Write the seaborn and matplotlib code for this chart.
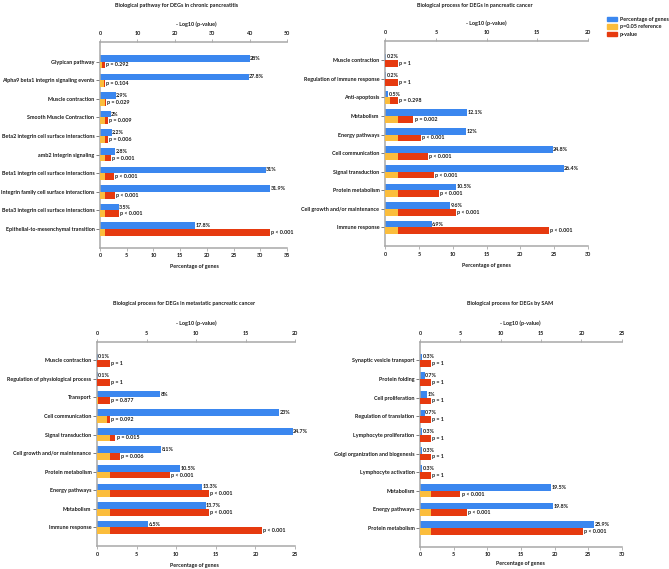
import numpy as np
import matplotlib
matplotlib.use("Agg")
import matplotlib.pyplot as plt
import seaborn as sns
from matplotlib.patches import Patch

sns.set_style("ticks")
plt.rcParams['font.family'] = ['Lato', 'DejaVu Sans']

BLUE = '#3b87ef'
GOLD = '#fbbd3c'
RED = '#e63a0f'
SPINE = '#a8a8a8'
TXT = '#1a1a1a'
FS = 3.9
REF = -np.log10(0.05)  # p = 0.05 reference line on the -log10 scale

# chronic pancreatitis
cp_terms = ["Glypican pathway", "Alpha9 beta1 integrin signaling events", "Muscle contraction",
            "Smooth Muscle Contraction", "Beta2 integrin cell surface interactions",
            "amb2 Integrin signaling", "Beta1 integrin cell surface interactions",
            "Integrin family cell surface interactions", "Beta3 integrin cell surface interactions",
            "Epithelial-to-mesenchymal transition"]
cp_pct = [28, 27.8, 2.9, 2, 2.2, 2.8, 31, 31.9, 3.5, 17.8]
cp_pct_labels = ["28%", "27.8%", "2.9%", "2%", "2.2%", "2.8%", "31%", "31.9%", "3.5%", "17.8%"]
cp_logp = [0.53, 0.98, 1.54, 2.05, 2.2, 3.0, 3.75, 4.1, 5.1, 45.4]
cp_p_labels = ["p = 0.292", "p = 0.104", "p = 0.029", "p = 0.009", "p = 0.006", "p = 0.001",
               "p < 0.001", "p < 0.001", "p < 0.001", "p < 0.001"]

# pancreatic cancer
pc_terms = ["Muscle contraction", "Regulation of immune response", "Anti-apoptosis", "Metabolism",
            "Energy pathways", "Cell communication", "Signal transduction", "Protein metabolism",
            "Cell growth and/or maintenance", "Immune response"]
pc_pct = [0.2, 0.2, 0.5, 12.1, 12.0, 24.8, 26.4, 10.5, 9.6, 6.9]
pc_pct_labels = ["0.2%", "0.2%", "0.5%", "12.1%", "12%", "24.8%", "26.4%", "10.5%", "9.6%", "6.9%"]
pc_logp = [0, 0, 0.53, 2.8, 3.5, 4.24, 4.83, 5.29, 6.96, 16.16]
pc_p_labels = ["p = 1", "p = 1", "p = 0.298", "p = 0.002", "p < 0.001", "p < 0.001",
               "p < 0.001", "p < 0.001", "p < 0.001", "p < 0.001"]

# metastatic pancreatic cancer
mc_terms = ["Muscle contraction", "Regulation of physiological process", "Transport",
            "Cell communication", "Signal transduction", "Cell growth and/or maintenance",
            "Protein metabolism", "Energy pathways", "Metabolism", "Immune response"]
mc_pct = [0.1, 0.1, 8, 23, 24.7, 8.1, 10.5, 13.3, 13.7, 6.5]
mc_pct_labels = ["0.1%", "0.1%", "8%", "23%", "24.7%", "8.1%", "10.5%", "13.3%", "13.7%", "6.5%"]
mc_logp = [0, 0, 0.06, 1.04, 1.86, 2.3, 7.4, 11.3, 11.3, 16.65]
mc_p_labels = ["p = 1", "p = 1", "p = 0.877", "p = 0.092", "p = 0.015", "p = 0.006",
               "p < 0.001", "p < 0.001", "p < 0.001", "p < 0.001"]

# SAM
sam_terms = ["Synaptic vesicle transport", "Protein folding", "Cell proliferation",
             "Regulation of translation", "Lymphocyte proliferation",
             "Golgi organization and biogenesis", "Lymphocyte activation", "Metabolism",
             "Energy pathways", "Protein metabolism"]
sam_pct = [0.3, 0.7, 1.0, 0.7, 0.3, 0.3, 0.3, 19.5, 19.8, 25.9]
sam_pct_labels = ["0.3%", "0.7%", "1%", "0.7%", "0.3%", "0.3%", "0.3%", "19.5%", "19.8%", "25.9%"]
sam_logp = [0, 0, 0, 0, 0, 0, 0, 5.0, 5.8, 20.2]
sam_p_labels = ["p = 1"] * 7 + ["p < 0.001"] * 3

W, H = 669, 569
fig = plt.figure(figsize=(W / 100, H / 100), dpi=100)


def px(x, y):
    return x / W, 1 - y / H


def panel(rect, terms, pct, pct_labels, logp, p_labels, pct_max, logp_max, logp_step,
          title, title_xy, log_xy, pct_xy, ylim_top):
    ax = fig.add_axes(rect)
    ax2 = ax.twiny()
    pos = np.arange(len(terms))
    logp = np.asarray(logp, dtype=float)
    red_end = np.maximum(logp, REF)
    gold_end = np.minimum(logp, REF)

    sns.barplot(x=pct, y=pos - 0.18, orient='h', native_scale=True, width=0.36,
                color=BLUE, saturation=1, linewidth=0, ax=ax)
    sns.barplot(x=red_end, y=pos + 0.18, orient='h', native_scale=True, width=0.36,
                color=RED, saturation=1, linewidth=0, ax=ax2)
    sns.barplot(x=gold_end, y=pos + 0.18, orient='h', native_scale=True, width=0.36,
                color=GOLD, saturation=1, linewidth=0, ax=ax2)

    for i in range(len(terms)):
        ax.annotate(pct_labels[i], (pct[i], pos[i] - 0.18), xytext=(0.3, 0),
                    textcoords='offset points', va='center', ha='left',
                    fontsize=FS, fontweight='bold', color=TXT)
        ax2.annotate(p_labels[i], (red_end[i], pos[i] + 0.18), xytext=(0.8, 0),
                     textcoords='offset points', va='center', ha='left',
                     fontsize=FS, fontweight='bold', color=TXT)

    ax.set_xlim(0, pct_max)
    ax.set_xticks(np.arange(0, pct_max + 1, 5))
    ax2.set_xlim(0, logp_max)
    ax2.set_xticks(np.arange(0, logp_max + 1, logp_step))
    ax.set_yticks(pos)
    ax.set_yticklabels(terms)
    ax.set_ylim(10.0, ylim_top)
    ax.set_xlabel('')
    ax.set_ylabel('')
    ax2.set_xlabel('')
    ax2.set_ylabel('')

    for a in (ax, ax2):
        for s in a.spines.values():
            s.set_color(SPINE)
            s.set_linewidth(1.1)
    ax.spines['top'].set_visible(False)
    ax.spines['right'].set_visible(False)
    for s in ('left', 'right', 'bottom'):
        ax2.spines[s].set_visible(False)

    ax.tick_params(axis='x', length=2, width=0.6, color=SPINE, pad=2,
                   labelsize=FS, labelcolor=TXT)
    ax.tick_params(axis='y', length=3, width=0.6, color='#666666', pad=1,
                   labelsize=FS, labelcolor=TXT)
    ax2.tick_params(axis='x', length=2, width=0.6, color=SPINE, pad=2,
                    labelsize=FS, labelcolor=TXT, top=True, bottom=False)
    for lab in ax.get_xticklabels() + ax.get_yticklabels() + ax2.get_xticklabels():
        lab.set_fontweight('bold')

    fig.text(*px(*title_xy), title, ha='center', va='center', fontsize=FS,
             fontweight='bold', color=TXT)
    fig.text(*px(*log_xy), '- Log10 (p-value)', ha='center', va='center', fontsize=FS,
             fontweight='bold', color=TXT)
    fig.text(*px(*pct_xy), 'Percentage of genes', ha='center', va='center', fontsize=FS,
             fontweight='bold', color=TXT)


panel([0.1495, 0.5647, 0.2795, 0.362], cp_terms, cp_pct, cp_pct_labels, cp_logp, cp_p_labels,
      35, 50, 10, 'Biological pathway for DEGs in chronic pancreatitis',
      (176.7, 5), (196.7, 24), (194, 266.7), -1.07)
panel([0.5755, 0.5677, 0.3035, 0.3603], pc_terms, pc_pct, pc_pct_labels, pc_logp, pc_p_labels,
      30, 20, 5, 'Biological process for DEGs in pancreatic cancer',
      (475, 5), (486.7, 23), (486, 265), -1.04)
panel([0.145, 0.0404, 0.296, 0.3591], mc_terms, mc_pct, mc_pct_labels, mc_logp, mc_p_labels,
      25, 20, 5, 'Biological process for DEGs in metastatic pancreatic cancer',
      (184, 303.7), (196.7, 323.3), (194, 565), -1.0)
panel([0.628, 0.0392, 0.3015, 0.3603], sam_terms, sam_pct, sam_pct_labels, sam_logp, sam_p_labels,
      30, 25, 5, 'Biological process for DEGs by SAM',
      (510, 303.7), (520, 323.3), (520, 563), -1.0)

handles = [Patch(color=BLUE, label='Percentage of genes'),
           Patch(color=GOLD, label='p=0.05 reference'),
           Patch(color=RED, label='p-value')]
leg = fig.legend(handles=handles, loc='upper left', bbox_to_anchor=px(607, 17), frameon=False,
                 fontsize=FS, handlelength=1.9, handleheight=0.9, labelspacing=0.4,
                 borderpad=0, borderaxespad=0, handletextpad=0.5)
for t in leg.get_texts():
    t.set_fontweight('bold')
    t.set_color(TXT)

fig.savefig('out.png', dpi=100)
